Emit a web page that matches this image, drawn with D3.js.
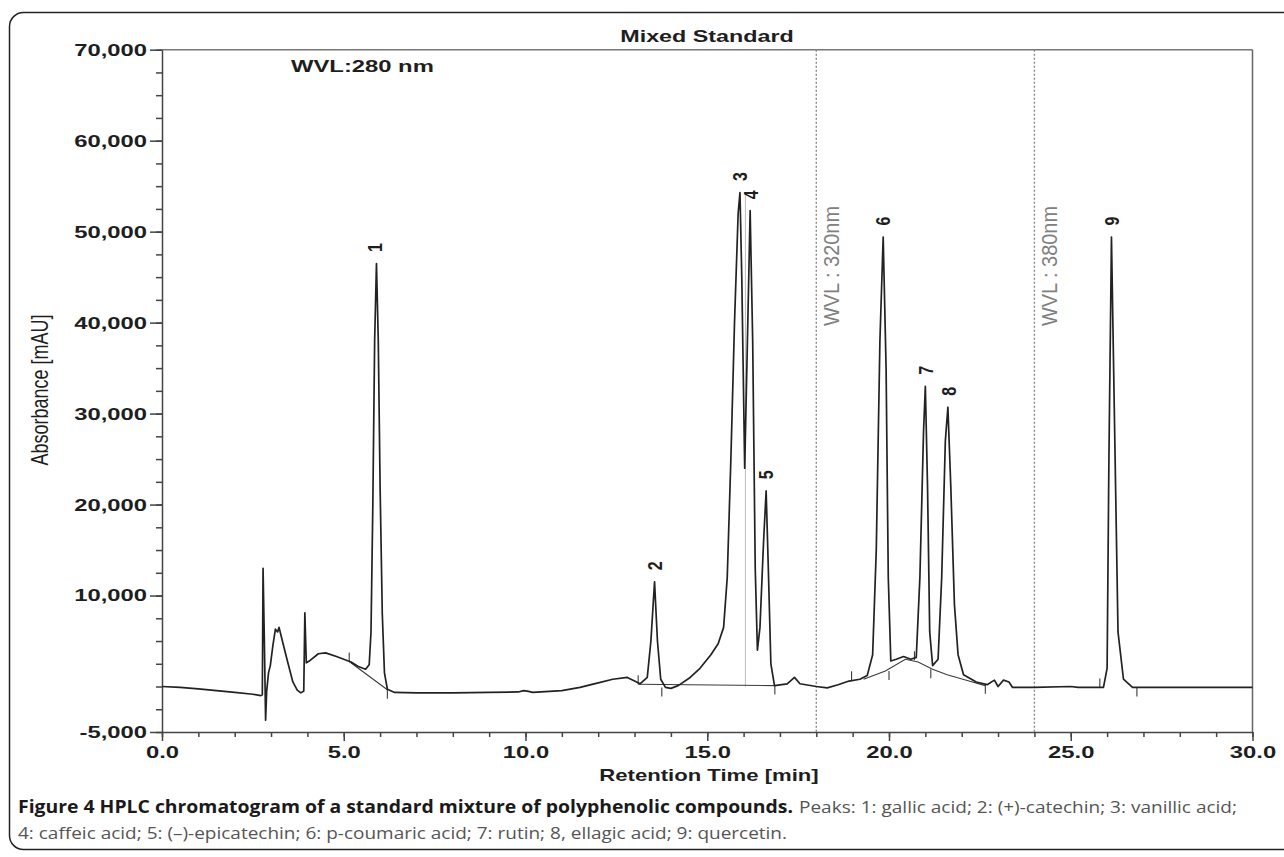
<!DOCTYPE html>
<html>
<head>
<meta charset="utf-8">
<script src="https://cdn.jsdelivr.net/npm/d3@7"></script>
<style>
body { margin: 0; background: #fff; }
svg { display: block; font-family: "Liberation Sans", Arial, sans-serif; }
.trace { fill: none; stroke: #222; stroke-width: 1.7; stroke-linejoin: round; }
.base { fill: none; stroke: #3a3a3a; stroke-width: 1.1; }
.axis text { font-weight: bold; font-size: 17px; fill: #1e1e1e; }
.axis line, .axis path { stroke: #444; stroke-width: 1.5; }
</style>
</head>
<body>
<svg width="1284" height="857"></svg>
<script>
// chromatogram trace (time in min, absorbance in mAU)
var traceTime = [0.0, 0.5, 1.0, 1.5, 2.0, 2.5, 2.72, 2.76, 2.78, 2.82, 2.85, 2.88, 2.93, 2.98, 3.05, 3.12, 3.18, 3.22, 3.3, 3.45,
	3.6, 3.72, 3.82, 3.9, 3.93, 3.97, 4.05, 4.3, 4.5, 4.8, 5.0, 5.2, 5.4, 5.6, 5.7, 5.75, 5.8, 5.85, 5.9, 5.95,
	6.0, 6.06, 6.12, 6.2, 6.4, 7.0, 8.0, 9.0, 9.8, 9.95, 10.05, 10.2, 11.0, 11.5, 12.0, 12.4, 12.8, 13.0, 13.15, 13.35,
	13.45, 13.55, 13.63, 13.72, 13.85, 14.0, 14.2, 14.5, 14.8, 15.1, 15.3, 15.45, 15.55, 15.65, 15.75, 15.85, 15.9, 15.95, 16.03, 16.1,
	16.18, 16.25, 16.32, 16.38, 16.45, 16.55, 16.62, 16.68, 16.75, 16.85, 17.2, 17.4, 17.55, 18.0, 18.3, 18.6, 18.9, 19.2, 19.4, 19.55,
	19.65, 19.75, 19.84, 19.92, 19.98, 20.05, 20.2, 20.4, 20.6, 20.75, 20.85, 20.95, 21.0, 21.06, 21.12, 21.2, 21.35, 21.45, 21.55, 21.62,
	21.7, 21.8, 21.9, 22.05, 22.4, 22.7, 22.9, 23.0, 23.15, 23.3, 23.4, 24.0, 25.0, 25.2, 25.9, 26.0, 26.05, 26.12, 26.2, 26.3,
	26.45, 26.7, 30.0];
var traceAbs = [0, -100, -250, -450, -650, -850, -1000, -900, 13000, 4000, -3700, -500, 1500, 2300, 4500, 6300, 6000, 6500, 5200, 2800,
	500, -400, -700, -500, 8100, 2600, 2800, 3600, 3700, 3300, 3000, 2700, 2200, 1900, 2400, 6000, 20000, 38000, 46500, 38000,
	22000, 8000, 1500, -300, -650, -700, -700, -650, -600, -450, -500, -650, -450, -100, 400, 800, 1000, 600, 300, 1000,
	5000, 11500, 5000, 800, -100, -200, 100, 900, 2000, 3500, 4700, 6500, 12000, 25000, 40000, 52000, 54300, 45000, 24000, 37000,
	52300, 38000, 13000, 4000, 6500, 16000, 21500, 13000, 2500, 100, 300, 1000, 300, 0, -150, 200, 600, 800, 1200, 3500,
	15000, 38000, 49400, 35000, 12000, 2800, 3000, 3300, 3000, 3200, 12000, 28000, 33000, 22000, 6000, 2300, 3000, 12000, 27000, 30700,
	22000, 9000, 3500, 1300, 500, 200, 700, 0, 700, 500, -100, -100, 0, -100, -100, 2000, 25000, 49400, 30000, 6000,
	800, -100, -100];

// integration baselines drawn by the software
var baseLines = [
	[[5.15, 2750], [6.2, -350]],
	[[13.1, 250], [16.86, 100]],
	[[19.3, 800], [19.9, 1700], [20.45, 3000], [20.8, 2700], [21.2, 1900], [21.6, 1300], [22.2, 600], [22.65, 100]]
];
// peak start / end markers
var eventTime = [5.15, 6.2, 13.1, 13.75, 16.86, 18.97, 20.0, 20.7, 21.15, 22.65, 25.8, 26.82];
var eventAbs = [2750, -350, 250, -100, 100, 700, 1700, 2900, 1900, 200, -100, -100];
var eventDir = [1, -1, 1, -1, -1, 1, -1, 1, -1, -1, 1, -1];

// peak labels
var peakIds = ["1", "2", "3", "4", "5", "6", "7", "8", "9"];
var peakTime = [5.85, 13.55, 15.9, 16.2, 16.62, 19.84, 21.0, 21.64, 26.12];
var peakAbs = [46500, 11500, 54300, 52300, 21500, 49400, 33000, 30700, 49400];

// wavelength switch lines
var wvlTime = [18.0, 24.0];
var wvlLabel = ["WVL : 320nm", "WVL : 380nm"];

var xTicks = [0, 5, 10, 15, 20, 25, 30];
var yTicks = [-5000, 10000, 20000, 30000, 40000, 50000, 60000, 70000];

var svg = d3.select("svg");

var x = d3.scaleLinear().domain([0, 30]).range([162, 1252.5]);
var y = d3.scaleLinear().domain([-5000, 70000]).range([732, 49.7]);

var fmtY = d3.formatLocale({ decimal: ".", thousands: ",", grouping: [3], currency: ["", ""], minus: "-" }).format(",");

function stretch(sel, k) {
	sel.each(function() {
		var w = this.getComputedTextLength();
		d3.select(this).attr("textLength", w * k).attr("lengthAdjust", "spacingAndGlyphs");
	});
}

// outer figure frame
svg.append("rect")
	.attr("x", 9.5).attr("y", 12.5)
	.attr("width", 1300).attr("height", 837)
	.attr("rx", 14)
	.style("fill", "none").style("stroke", "#222").style("stroke-width", 1.5);

// top and right edges of the plot box
svg.append("line")
	.attr("x1", x(0)).attr("x2", x(30)).attr("y1", y(70000)).attr("y2", y(70000))
	.style("stroke", "#777").style("stroke-width", 1.6);
svg.append("line")
	.attr("x1", x(30)).attr("x2", x(30)).attr("y1", y(70000)).attr("y2", y(-5000))
	.style("stroke", "#666").style("stroke-width", 1.5);

// dotted wavelength lines
svg.selectAll(".wvl")
	.data(wvlTime)
	.enter()
	.append("line")
	.attr("class", "wvl")
	.attr("x1", function(d) { return x(d); })
	.attr("x2", function(d) { return x(d); })
	.attr("y1", y(70000)).attr("y2", y(-5000))
	.style("stroke", "#888").style("stroke-width", 1.4).style("stroke-dasharray", "2,2");

svg.selectAll(".wvl_label")
	.data(wvlTime)
	.enter()
	.append("text")
	.attr("class", "wvl_label")
	.attr("transform", function(d) { return "translate(" + (x(d) + 15) + ",266) scale(1.3,1) rotate(-90)"; })
	.attr("text-anchor", "middle")
	.attr("dominant-baseline", "central")
	.attr("textLength", 120).attr("lengthAdjust", "spacingAndGlyphs")
	.style("font-size", "17px").style("fill", "#808080")
	.text(function(d, i) { return wvlLabel[i]; });

// faint marker line at peak 3/4
svg.append("line")
	.attr("x1", x(16.05)).attr("x2", x(16.05)).attr("y1", y(54000)).attr("y2", y(0))
	.style("stroke", "#bbb").style("stroke-width", 1);

// minor ticks
svg.append("g")
	.attr("class", "axis")
	.attr("transform", "translate(" + x(0) + ",0)")
	.call(d3.axisLeft(y).tickValues(d3.range(-5000, 70001, 2500)).tickSize(6).tickFormat(""))
	.select(".domain").remove();
svg.append("g")
	.attr("class", "axis")
	.attr("transform", "translate(0," + y(-5000) + ")")
	.call(d3.axisBottom(x).tickValues(d3.range(0, 31, 1)).tickSize(5).tickFormat(""))
	.select(".domain").remove();

// major axes
var yAxis = svg.append("g")
	.attr("class", "axis")
	.attr("transform", "translate(" + x(0) + ",0)")
	.call(d3.axisLeft(y).tickValues(yTicks).tickSize(12).tickSizeOuter(0).tickPadding(3).tickFormat(fmtY));
stretch(yAxis.selectAll("text"), 1.4);

var xAxis = svg.append("g")
	.attr("class", "axis")
	.attr("transform", "translate(0," + y(-5000) + ")")
	.call(d3.axisBottom(x).tickValues(xTicks).tickSize(9).tickSizeOuter(0).tickPadding(5).tickFormat(d3.format(".1f")));
stretch(xAxis.selectAll("text"), 1.4);

// integration baselines and markers
var line = d3.line()
	.x(function(d) { return x(d[0]); })
	.y(function(d) { return y(d[1]); });

svg.selectAll(".base")
	.data(baseLines)
	.enter()
	.append("path")
	.attr("class", "base")
	.attr("d", line);

svg.selectAll(".event")
	.data(eventTime)
	.enter()
	.append("line")
	.attr("class", "base")
	.attr("x1", function(d) { return x(d); })
	.attr("x2", function(d) { return x(d); })
	.attr("y1", function(d, i) { return y(eventAbs[i]); })
	.attr("y2", function(d, i) { return y(eventAbs[i]) - eventDir[i] * 9; });

// the trace
var pts = traceTime.map(function(t, i) { return [t, traceAbs[i]]; });
svg.append("path")
	.datum(pts)
	.attr("class", "trace")
	.attr("d", line);

// peak numbers
svg.selectAll(".peak_label")
	.data(peakIds)
	.enter()
	.append("text")
	.attr("class", "peak_label")
	.attr("transform", function(d, i) {
		return "translate(" + x(peakTime[i]) + "," + (y(peakAbs[i]) - 16) + ") scale(1.3,1) rotate(-90)";
	})
	.attr("text-anchor", "middle")
	.attr("dominant-baseline", "central")
	.style("font-size", "16px").style("font-weight", "bold").style("fill", "#1e1e1e")
	.text(function(d) { return d; });

// titles
var title = svg.append("text")
	.attr("x", 707).attr("y", 42)
	.attr("text-anchor", "middle")
	.style("font-size", "17px").style("font-weight", "bold").style("fill", "#1e1e1e")
	.text("Mixed Standard");
stretch(title, 1.37);

var wvl = svg.append("text")
	.attr("x", 291).attr("y", 72)
	.style("font-size", "17px").style("font-weight", "bold").style("fill", "#1e1e1e")
	.text("WVL:280 nm");
stretch(wvl, 1.4);

var xTitle = svg.append("text")
	.attr("x", 709).attr("y", 781)
	.attr("text-anchor", "middle")
	.style("font-size", "17px").style("font-weight", "bold").style("fill", "#1e1e1e")
	.text("Retention Time [min]");
stretch(xTitle, 1.3);

svg.append("text")
	.attr("transform", "translate(40,390) scale(1.3,1) rotate(-90)")
	.attr("text-anchor", "middle")
	.attr("dominant-baseline", "central")
	.style("font-size", "18px").style("fill", "#1e1e1e")
	.text("Absorbance [mAU]");

// caption
var capFont = "'Open Sans', 'Noto Sans', sans-serif";
svg.append("text")
	.attr("x", 18).attr("y", 813)
	.attr("textLength", 775).attr("lengthAdjust", "spacingAndGlyphs")
	.style("font-family", capFont).style("font-size", "17px").style("font-weight", "bold").style("fill", "#1a1a1a")
	.text("Figure 4 HPLC chromatogram of a standard mixture of polyphenolic compounds.");
svg.append("text")
	.attr("x", 799).attr("y", 813)
	.attr("textLength", 438).attr("lengthAdjust", "spacingAndGlyphs")
	.style("font-family", capFont).style("font-size", "17px").style("fill", "#555")
	.text("Peaks: 1: gallic acid; 2: (+)-catechin; 3: vanillic acid;");
svg.append("text")
	.attr("x", 18).attr("y", 839)
	.attr("textLength", 769).attr("lengthAdjust", "spacingAndGlyphs")
	.style("font-family", capFont).style("font-size", "17px").style("fill", "#555")
	.text("4: caffeic acid; 5: (\u2013)-epicatechin; 6: p-coumaric acid; 7: rutin; 8, ellagic acid; 9: quercetin.");
</script>
</body>
</html>
